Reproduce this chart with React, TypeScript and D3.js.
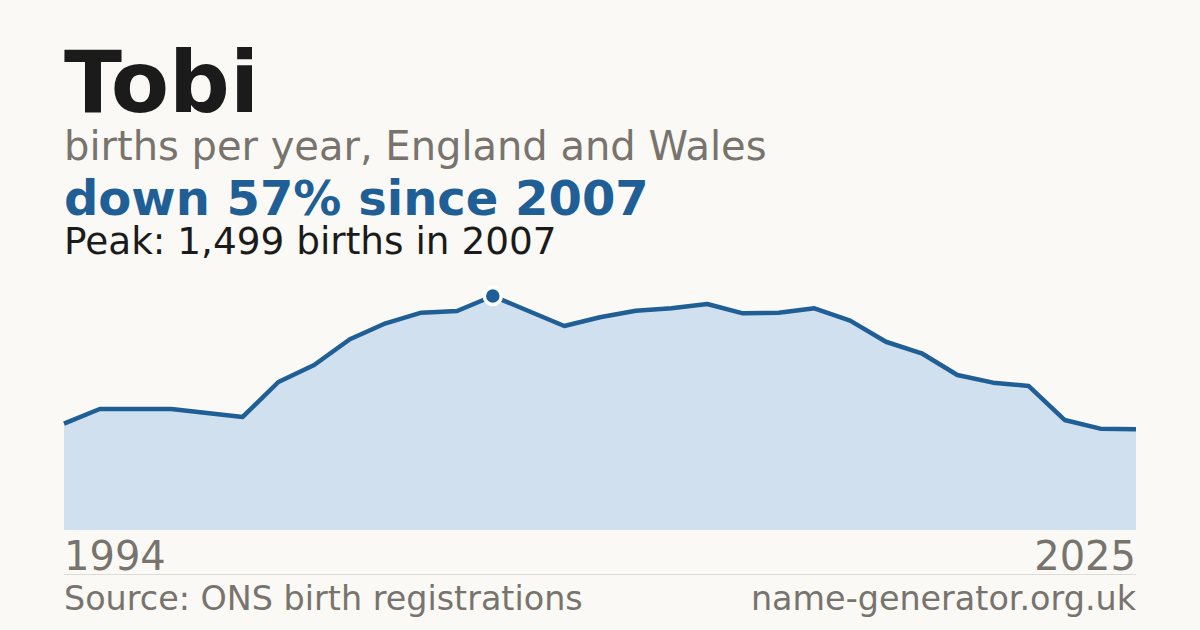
import * as d3 from "d3";
import React, { useEffect, useRef } from "react";

// births per year for "Tobi"
const years: number[] = d3.range(1995, 2026);
const births: number[] = [
  681, 775, 775, 775, 750, 724, 948, 1057, 1222, 1324, 1392,
  1403, 1499, 1403, 1307, 1363, 1405, 1420, 1448, 1388, 1392,
  1420, 1341, 1206, 1132, 993, 944, 922, 705, 649, 645,
];
const axisLabels: string[] = ["1994", "2025"];

const WIDTH = 1200;
const HEIGHT = 630;
const FONT = "'DejaVu Sans', sans-serif";

const BG = "#faf9f5";
const BLUE = "#1f5f96";
const FILL = "#d0e0ef";
const GREY = "#78746d";
const INK = "#1b1b1b";

const App: React.FC = () => {
  const ref = useRef<SVGSVGElement | null>(null);

  useEffect(() => {
    const svg = d3.select(ref.current);
    svg.selectAll("*").remove();

    const margin = { left: 64, right: 64, top: 296, bottom: 100 };
    const data = years.map((y, i) => ({ year: y, value: births[i] }));

    svg.append("rect").attr("width", WIDTH).attr("height", HEIGHT).attr("fill", BG);

    const x = d3
      .scaleLinear()
      .domain(d3.extent(years) as [number, number])
      .range([margin.left, WIDTH - margin.right]);

    const y = d3
      .scaleLinear()
      .domain([0, d3.max(births) || 0])
      .range([HEIGHT - margin.bottom, margin.top]);

    const area = d3
      .area<{ year: number; value: number }>()
      .x((d) => x(d.year))
      .y0(y(0))
      .y1((d) => y(d.value));

    const line = d3
      .line<{ year: number; value: number }>()
      .x((d) => x(d.year))
      .y((d) => y(d.value));

    svg.append("path").datum(data).attr("d", area).attr("fill", FILL);

    svg
      .append("path")
      .datum(data)
      .attr("d", line)
      .attr("fill", "none")
      .attr("stroke", BLUE)
      .attr("stroke-width", 4.5)
      .attr("stroke-linejoin", "round");

    // peak marker
    const peak = data.reduce((a, b) => (b.value > a.value ? b : a));
    svg
      .append("circle")
      .attr("cx", x(peak.year))
      .attr("cy", y(peak.value))
      .attr("r", 8.5)
      .attr("fill", BLUE)
      .attr("stroke", "#ffffff")
      .attr("stroke-width", 3.5);

    // headings
    const text = (t: string, ty: number, size: number, color: string, weight = "normal") =>
      svg
        .append("text")
        .attr("x", margin.left)
        .attr("y", ty)
        .attr("fill", color)
        .style("font-family", FONT)
        .style("font-size", `${size}px`)
        .style("font-weight", weight)
        .text(t);

    text("Tobi", 112, 85, INK, "bold");
    text("births per year, England and Wales", 160, 40, GREY);
    const last = births[births.length - 1];
    const drop = Math.round((1 - last / peak.value) * 100);
    text(`down ${drop}% since ${peak.year}`, 215, 48, BLUE, "bold");
    text(`Peak: ${d3.format(",")(peak.value)} births in ${peak.year}`, 254, 37.4, INK);

    // first / last year labels
    svg
      .append("text")
      .attr("x", margin.left)
      .attr("y", 570)
      .attr("fill", GREY)
      .style("font-family", FONT)
      .style("font-size", "40px")
      .text(axisLabels[0]);
    svg
      .append("text")
      .attr("x", WIDTH - margin.right)
      .attr("y", 570)
      .attr("text-anchor", "end")
      .attr("fill", GREY)
      .style("font-family", FONT)
      .style("font-size", "40px")
      .text(axisLabels[1]);

    svg
      .append("line")
      .attr("x1", margin.left)
      .attr("x2", WIDTH - margin.right)
      .attr("y1", 574.5)
      .attr("y2", 574.5)
      .attr("stroke", "#dddbd5")
      .attr("stroke-width", 1);

    // footer
    svg
      .append("text")
      .attr("x", margin.left)
      .attr("y", 610)
      .attr("fill", GREY)
      .style("font-family", FONT)
      .style("font-size", "33.4px")
      .text("Source: ONS birth registrations");
    svg
      .append("text")
      .attr("x", WIDTH - margin.right)
      .attr("y", 610)
      .attr("text-anchor", "end")
      .attr("fill", GREY)
      .style("font-family", FONT)
      .style("font-size", "33.4px")
      .text("name-generator.org.uk");

    return () => {
      svg.selectAll("*").remove();
    };
  }, []);

  return (
    <svg
      ref={ref}
      width={WIDTH}
      height={HEIGHT}
      style={{ position: "absolute", left: 0, top: 0, display: "block" }}
    />
  );
};

export default App;
